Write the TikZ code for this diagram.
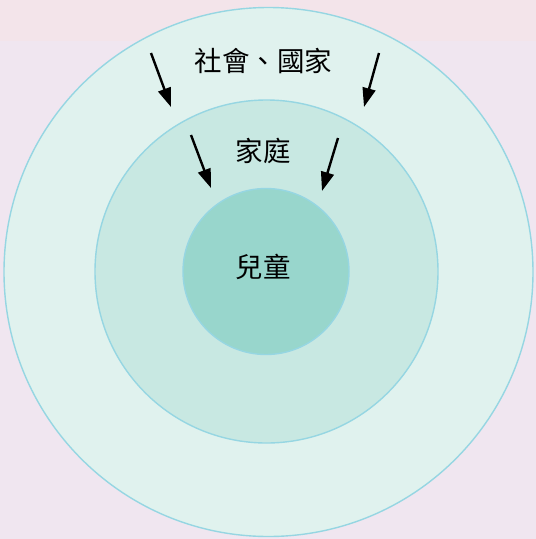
\documentclass[tikz,border=0pt]{standalone}
\usepackage{fontspec}
\newfontfamily\cjk{Noto Sans CJK TC}
\usetikzlibrary{arrows.meta}
\definecolor{bg_lav}{RGB}{240, 230, 240}
\definecolor{bg_top}{RGB}{243, 228, 234}
\definecolor{ring_out}{RGB}{224, 242, 238}
\definecolor{ring_mid}{RGB}{200, 232, 226}
\definecolor{ring_in}{RGB}{152, 214, 204}
\definecolor{ring_line}{RGB}{150, 214, 226}
\tikzstyle{ring}=[circle,draw=ring_line,line width=1.4pt,inner sep=0pt]
\tikzstyle{lbl}=[font=\cjk\fontsize{27.5}{27.5}\selectfont,text=black]
\tikzstyle{push}=[-{Triangle[length=19pt,width=13pt]},line width=2.4pt]

\begin{document}
\begin{tikzpicture}[x=1pt,y=-1pt]
        \fill[bg_lav] (0,0) rectangle (536,539);
        \fill[bg_top] (0,0) rectangle (536,41);
        \useasboundingbox (0,0) rectangle (536,539);
        \node[style=ring,fill=ring_out,minimum size=529pt] (0) at (268.5,272) {};
        \node[style=ring,fill=ring_mid,minimum size=343pt] (1) at (266.5,271.5) {};
        \node[style=ring,fill=ring_in,minimum size=166pt] (2) at (266,271.5) {};
        \node[style=lbl] (3) at (263.5,61) {社會、國家};
        \node[style=lbl] (4) at (263,151) {家庭};
        \node[style=lbl] (5) at (263,267) {兒童};
        \coordinate (6) at (151,53);
        \coordinate (7) at (171,107);
        \coordinate (8) at (379,53);
        \coordinate (9) at (364,107);
        \coordinate (10) at (191,135);
        \coordinate (11) at (211,188);
        \coordinate (12) at (338,138);
        \coordinate (13) at (322,191);
        \draw[style=push] (6) to (7);
        \draw[style=push] (8) to (9);
        \draw[style=push] (10) to (11);
        \draw[style=push] (12) to (13);
    \end{tikzpicture}
\end{document}
